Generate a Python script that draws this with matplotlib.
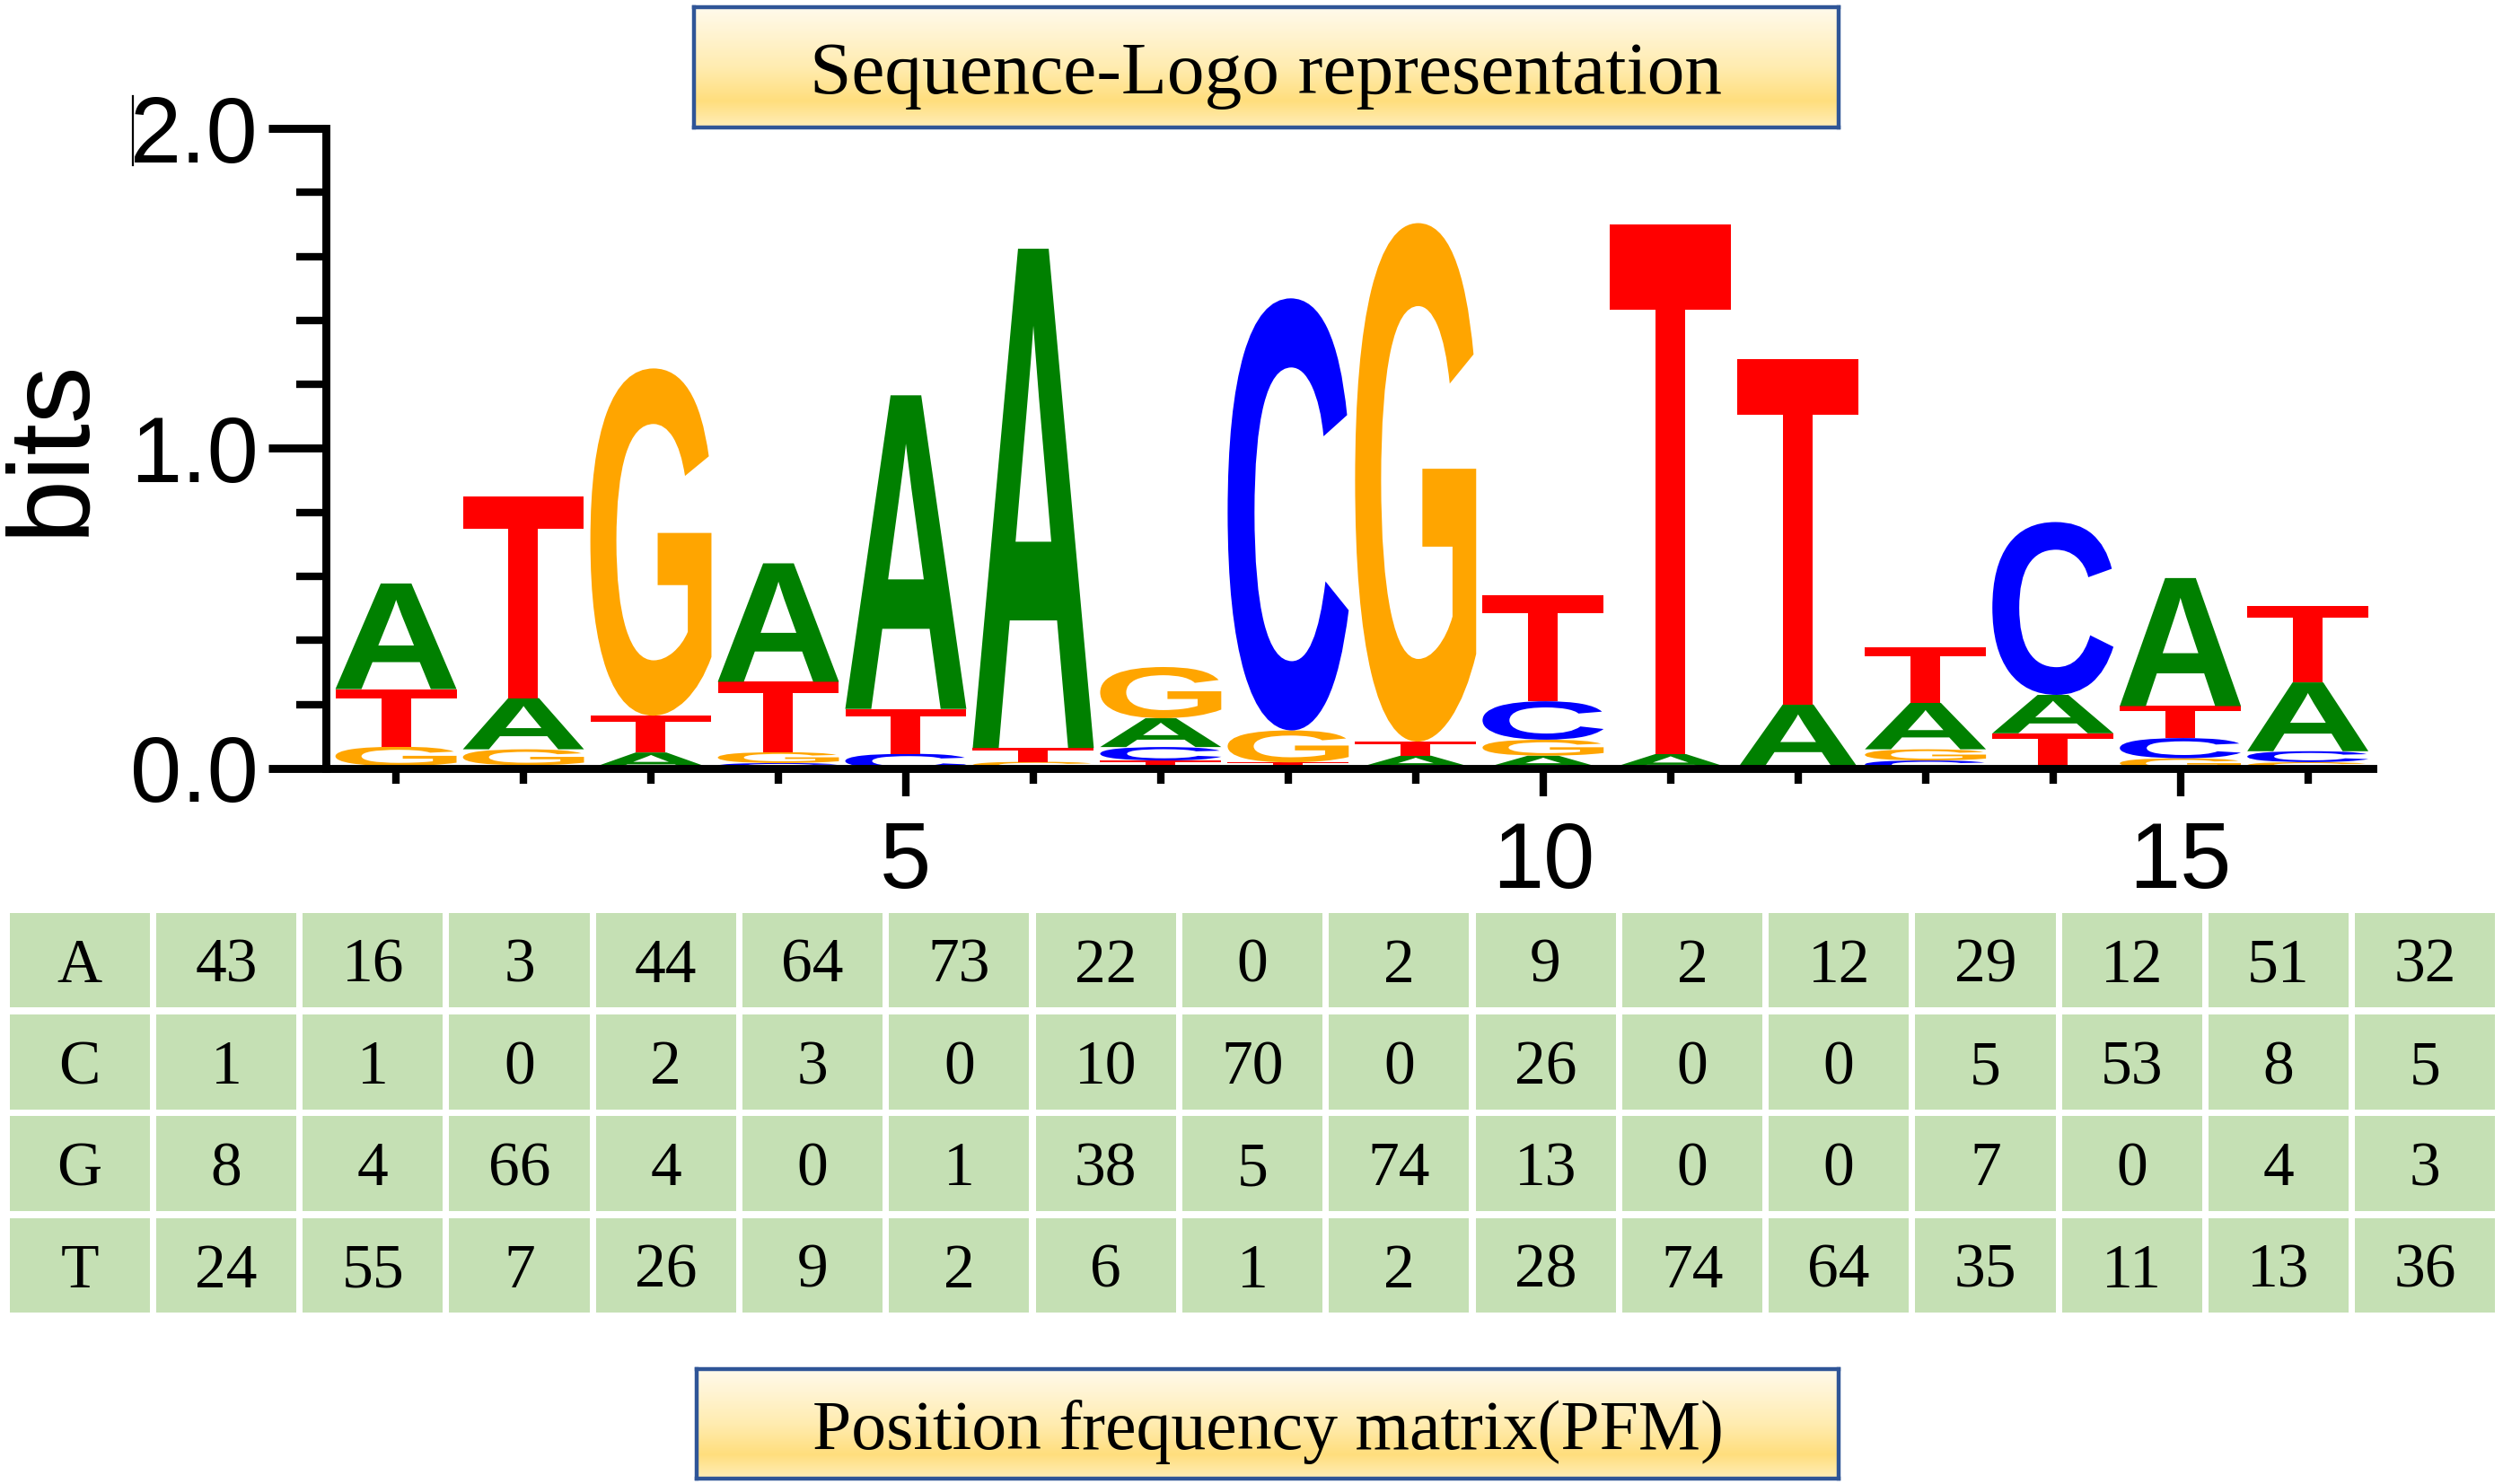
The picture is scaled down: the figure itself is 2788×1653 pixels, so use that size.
import numpy as np
import matplotlib
matplotlib.use('Agg')
import matplotlib.pyplot as plt
import matplotlib.transforms as mtransforms
from matplotlib.patches import PathPatch, Rectangle
from matplotlib.textpath import TextPath
from matplotlib.font_manager import FontProperties
from matplotlib.ticker import MultipleLocator
from matplotlib.lines import Line2D

# position frequency matrix (the table)
bases = ['A', 'C', 'G', 'T']
positions = list(range(1, 17))
count_a = [43, 16, 3, 44, 64, 73, 22, 0, 2, 9, 2, 12, 29, 12, 51, 32]
count_c = [1, 1, 0, 2, 3, 0, 10, 70, 0, 26, 0, 0, 5, 53, 8, 5]
count_g = [8, 4, 66, 4, 0, 1, 38, 5, 74, 13, 0, 0, 7, 0, 4, 3]
count_t = [24, 55, 7, 26, 9, 2, 6, 1, 2, 28, 74, 64, 35, 11, 13, 36]

# letter heights in the logo (bits)
logo_a = [0.33, 0.16, 0.05, 0.37, 0.98, 1.56, 0.09, 0.00, 0.04, 0.04, 0.045, 0.20, 0.145, 0.12, 0.40, 0.215]
logo_c = [0.008, 0.01, 0.00, 0.017, 0.046, 0.00, 0.042, 1.35, 0.00, 0.12, 0.00, 0.00, 0.025, 0.54, 0.063, 0.034]
logo_g = [0.06, 0.05, 1.085, 0.034, 0.00, 0.021, 0.16, 0.10, 1.62, 0.05, 0.00, 0.00, 0.035, 0.00, 0.032, 0.02]
logo_t = [0.18, 0.63, 0.115, 0.22, 0.14, 0.043, 0.025, 0.019, 0.044, 0.33, 1.655, 1.08, 0.175, 0.11, 0.10, 0.24]

base_colors = {'A': '#008000', 'C': '#0000ff', 'G': '#ffa500', 'T': '#ff0000'}
cell_green = '#c5e0b4'

W, H = 2788, 1653
fig = plt.figure(figsize=(W / 200, H / 200), dpi=200)


def px_axes(x0, y0, x1, y1):
    # box given in pixels, measured from top-left of the image
    return fig.add_axes([x0 / W, 1 - y1 / H, (x1 - x0) / W, (y1 - y0) / H])


letter_font = FontProperties(family='Liberation Sans', weight='bold')


def draw_letter(ax, ch, xc, y0, w, h, color):
    tp = TextPath((0, 0), ch, size=1, prop=letter_font)
    bb = tp.get_extents()
    tr = (mtransforms.Affine2D()
          .translate(-bb.x0, -bb.y0)
          .scale(w / bb.width, h / bb.height)
          .translate(xc - w / 2, y0))
    ax.add_patch(PathPatch(tr.transform_path(tp), fc=color, ec='none', lw=0))


# ---- sequence logo ----
ax = px_axes(363, 143, 2643, 856)
heights_all = np.array([logo_a, logo_c, logo_g, logo_t])

for j, pos in enumerate(positions):
    heights = heights_all[:, j]
    order = np.argsort(heights, kind='stable')
    y = 0.0
    for i in order:
        if heights[i] <= 0:
            continue
        draw_letter(ax, bases[i], pos, y, 0.95, heights[i], base_colors[bases[i]])
        y += heights[i]

ax.set_xlim(0.45, 16.51)
ax.set_ylim(0, 2.0)
for side in ['top', 'right']:
    ax.spines[side].set_visible(False)
for side in ['left', 'bottom']:
    ax.spines[side].set_linewidth(3.2)

ax.set_yticks([0, 1, 2])
ax.set_yticklabels(['0.0', '1.0', '2.0'])
ax.yaxis.set_minor_locator(MultipleLocator(0.2))
ax.set_xticks([5, 10, 15])
ax.set_xticks(positions, minor=True)
ax.tick_params(axis='y', which='major', length=23, width=3.2, labelsize=37, pad=4)
ax.tick_params(axis='y', which='minor', length=12, width=3.0)
ax.tick_params(axis='x', which='major', length=11, width=3.0, labelsize=37, pad=10)
ax.tick_params(axis='x', which='minor', length=6, width=3.0)
for lab in ax.get_xticklabels() + ax.get_yticklabels():
    lab.set_family('Liberation Sans')

fig.text(58 / W, 1 - 498 / H, 'bits', rotation=90, ha='center', va='center',
         fontsize=46, family='Liberation Sans')
fig.add_artist(Line2D([148 / W, 148 / W], [1 - 107 / H, 1 - 184 / H],
                      color='black', lw=0.8))

# ---- frequency table ----
tax = px_axes(7, 1013, 2783, 1466)
tax.set_xlim(0, 17)
tax.set_ylim(4, 0)
tax.axis('off')
gx, gy = 0.022, 0.035
for r, row in enumerate([count_a, count_c, count_g, count_t]):
    cells = [bases[r]] + [str(v) for v in row]
    for c, txt in enumerate(cells):
        tax.add_patch(Rectangle((c + gx, r + gy), 1 - 2 * gx, 1 - 2 * gy,
                                fc=cell_green, ec='none'))
        tax.text(c + 0.5, r + 0.5, txt, ha='center', va='center_baseline',
                 fontsize=25, family='Liberation Serif')

# ---- title boxes ----
stops = [(0.0, (255, 250, 236)), (0.5, (255, 236, 176)),
         (0.78, (255, 222, 125)), (1.0, (255, 238, 185))]


def title_box(x0, y0, x1, y1, label, base_y, size):
    bax = px_axes(x0, y0, x1, y1)
    t = np.linspace(0, 1, 256)
    grad = np.zeros((256, 1, 3))
    for k in range(3):
        grad[:, 0, k] = np.interp(t, [s[0] for s in stops], [s[1][k] for s in stops]) / 255
    bax.imshow(grad, aspect='auto', extent=(0, 1, 0, 1))
    bax.set_xlim(0, 1)
    bax.set_ylim(0, 1)
    bax.set_xticks([])
    bax.set_yticks([])
    for s in bax.spines.values():
        s.set_color('#2f5597')
        s.set_linewidth(1.6)
    bax.text(0.5, base_y, label, ha='center', va='baseline',
             fontsize=size, family='Liberation Serif')


title_box(773, 8, 2048, 142, 'Sequence-Logo representation', 0.28, 30)
title_box(776, 1525, 2048, 1647, 'Position frequency matrix(PFM)', 0.27, 28)

fig.savefig('out.png', dpi=200)
